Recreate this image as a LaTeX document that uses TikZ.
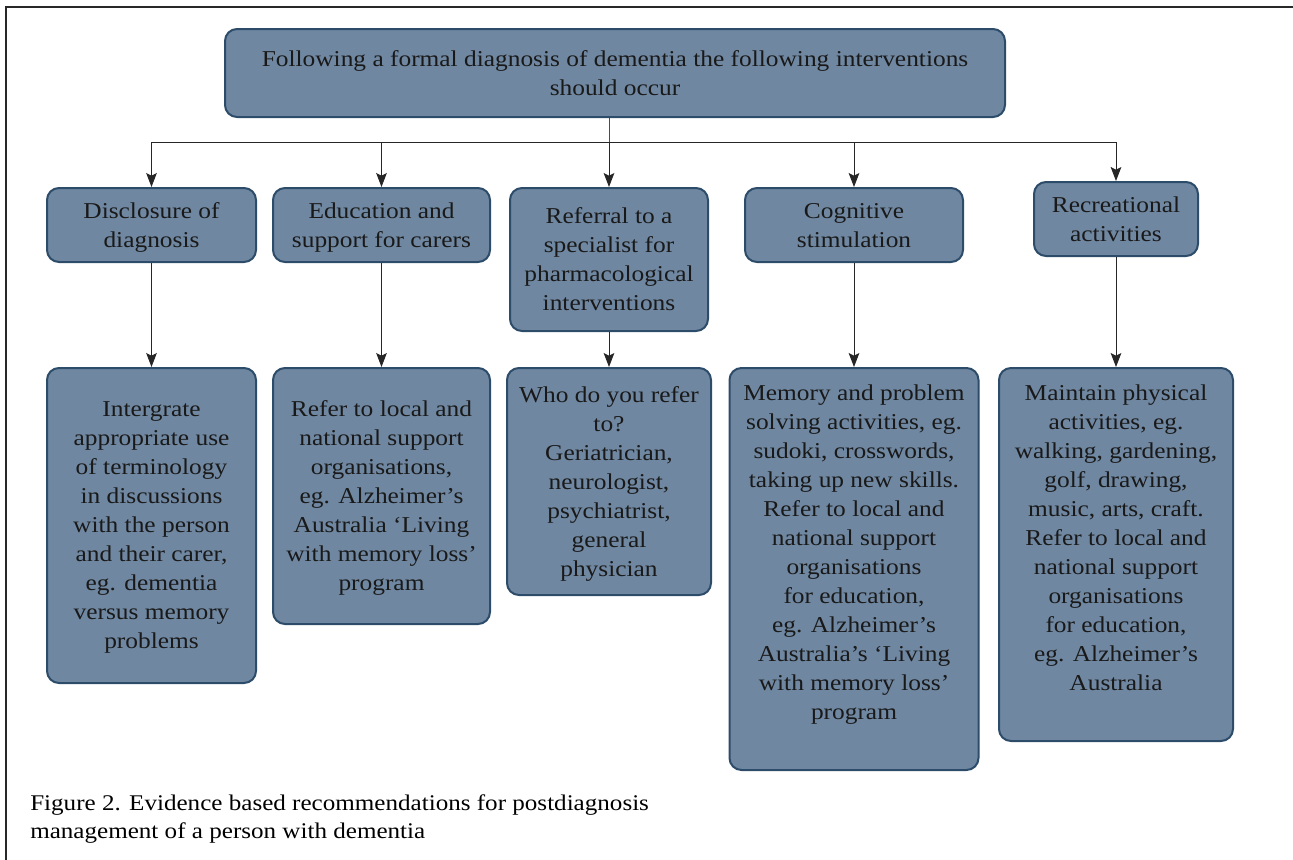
\documentclass[tikz,border=0pt]{standalone}
\usepackage{fontspec}
\setmainfont{Liberation Serif}[FakeStretch=1.12]
\usetikzlibrary{arrows.meta, positioning}
\definecolor{boxfill}{RGB}{111, 135, 161}
\definecolor{boxline}{RGB}{45, 76, 106}
\definecolor{framecolor}{RGB}{40, 40, 40}

\tikzset{
    box/.style={draw=boxline, fill=boxfill, line width=1.5pt, rounded corners=9pt,
        align=center, inner sep=2pt, text=black!90, text depth=0pt,
        font=\fontsize{17}{21.75}\selectfont},
    arr/.style={-{Stealth[length=10.5pt, width=8pt, inset=2pt]}, line width=0.75pt, black!85},
    bus/.style={line width=0.75pt, black!70},
}

\begin{document}
\begin{tikzpicture}[x=0.75pt, y=-0.75pt]
    \useasboundingbox (0,0) rectangle (1293,860);
    \draw[framecolor, line width=1.1pt] (6,860) -- (6,7) -- (1293,7);

    % top of the tree
    \node[box, minimum width=0.75*780pt, minimum height=0.75*88pt] (top) at (615,73)
        {Following a formal diagnosis of dementia the following interventions\\ should occur};

    % the five interventions
    \node[box, minimum width=0.75*209pt, minimum height=0.75*74pt] (disc) at (151.5,225)
        {Disclosure of\\ diagnosis};
    \node[box, minimum width=0.75*217pt, minimum height=0.75*74pt] (educ) at (381.5,225)
        {Education and\\ support for carers};
    \node[box, minimum width=0.75*198pt, minimum height=0.75*143pt] (refer) at (609,259.5)
        {Referral to a\\ specialist for\\ pharmacological\\ interventions};
    \node[box, minimum width=0.75*218pt, minimum height=0.75*74pt] (cogn) at (854,225)
        {Cognitive\\ stimulation};
    \node[box, minimum width=0.75*164pt, minimum height=0.75*74pt] (recr) at (1116,219)
        {Recreational\\ activities};

    % what to do for each
    \node[box, minimum width=0.75*209pt, minimum height=0.75*315pt] (discdo) at (151.5,525.5)
        {Intergrate\\ appropriate use\\ of terminology\\ in discussions\\ with the person\\ and their carer,\\ eg. dementia\\ versus memory\\ problems};
    \node[box, minimum width=0.75*217pt, minimum height=0.75*256pt] (educdo) at (381.5,496)
        {Refer to local and\\ national support\\ organisations,\\ eg. Alzheimer’s\\ Australia ‘Living\\ with memory loss’\\ program};
    \node[box, minimum width=0.75*204pt, minimum height=0.75*227pt] (referdo) at (609,481.5)
        {Who do you refer\\ to?\\ Geriatrician,\\ neurologist,\\ psychiatrist,\\ general\\ physician};
    \node[box, minimum width=0.75*249pt, minimum height=0.75*402pt, text depth=25pt] (cogndo) at (854,569)
        {Memory and problem\\ solving activities, eg.\\ sudoki, crosswords,\\ taking up new skills.\\ Refer to local and\\ national support\\ organisations\\ for education,\\ eg. Alzheimer’s\\ Australia’s ‘Living\\ with memory loss’\\ program};
    \node[box, minimum width=0.75*234pt, minimum height=0.75*373pt, text depth=25pt] (recrdo) at (1116,554.5)
        {Maintain physical\\ activities, eg.\\ walking, gardening,\\ golf, drawing,\\ music, arts, craft.\\ Refer to local and\\ national support\\ organisations\\ for education,\\ eg. Alzheimer’s\\ Australia};

    % connectors
    \coordinate (split) at (609,142);
    \draw[bus] (split |- top.south) -- (split);
    \foreach \n in {disc, educ, refer, cogn, recr}
        \draw[arr] (split) -| (\n.north);
    \foreach \n in {disc, educ, refer, cogn, recr}
        \draw[arr] (\n.south) -- (\n do.north);

    \node[anchor=base west, align=left, inner sep=0pt, font=\fontsize{16.8}{21}\selectfont] (caption) at (30,838)
        {Figure 2. Evidence based recommendations for postdiagnosis\\ management of a person with dementia};
\end{tikzpicture}
\end{document}
